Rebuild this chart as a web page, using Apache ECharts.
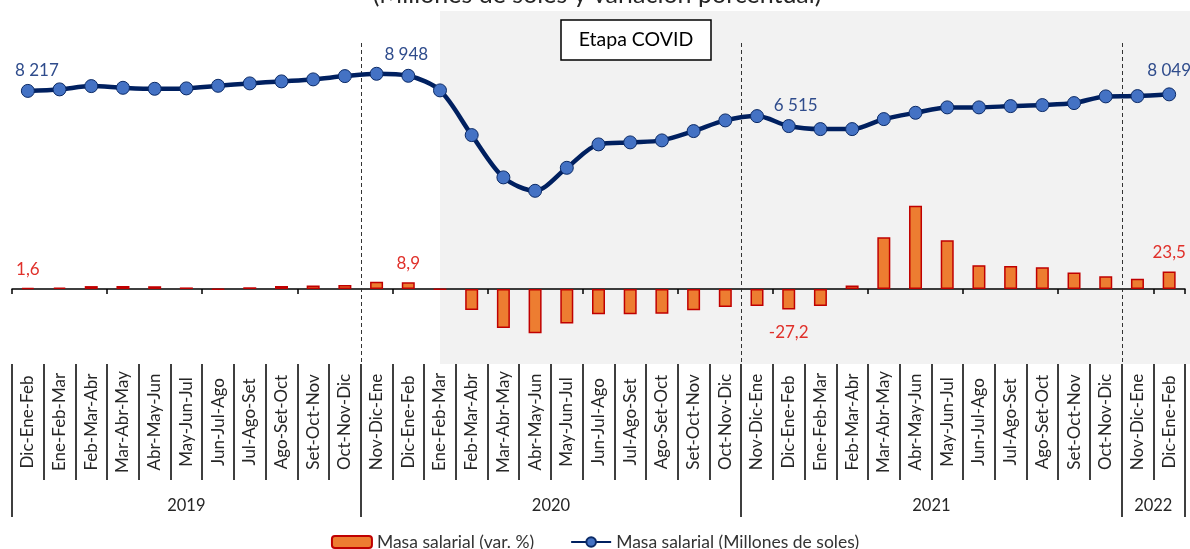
<!DOCTYPE html>
<html>
<head>
<meta charset="utf-8">
<script src="https://cdn.jsdelivr.net/npm/echarts@6/dist/echarts.min.js"></script>
<style>
html, body { margin: 0; padding: 0; background: #fff; }
#main { width: 1190px; height: 549px; }
</style>
</head>
<body>
<div id="main"></div>
<script>
// trimestres moviles
var periodos = [
    'Dic-Ene-Feb', 'Ene-Feb-Mar', 'Feb-Mar-Abr', 'Mar-Abr-May', 'Abr-May-Jun', 'May-Jun-Jul',
    'Jun-Jul-Ago', 'Jul-Ago-Set', 'Ago-Set-Oct', 'Set-Oct-Nov', 'Oct-Nov-Dic',
    'Nov-Dic-Ene', 'Dic-Ene-Feb', 'Ene-Feb-Mar', 'Feb-Mar-Abr', 'Mar-Abr-May', 'Abr-May-Jun',
    'May-Jun-Jul', 'Jun-Jul-Ago', 'Jul-Ago-Set', 'Ago-Set-Oct', 'Set-Oct-Nov', 'Oct-Nov-Dic',
    'Nov-Dic-Ene', 'Dic-Ene-Feb', 'Ene-Feb-Mar', 'Feb-Mar-Abr', 'Mar-Abr-May', 'Abr-May-Jun',
    'May-Jun-Jul', 'Jun-Jul-Ago', 'Jul-Ago-Set', 'Ago-Set-Oct', 'Set-Oct-Nov', 'Oct-Nov-Dic',
    'Nov-Dic-Ene', 'Dic-Ene-Feb'
];
var anios = ['2019', '2020', '2021', '2022'];
var aniosCentro = [5.5, 17, 29, 36];
var aniosCortes = [0, 11, 23, 35, 37];

// Masa salarial (Millones de soles)
var masaSoles = [
    8217, 8290, 8449, 8367, 8319, 8338, 8464, 8580, 8677, 8774, 8933,
    9045, 8948, 8241, 6078, 4031, 3382, 4495, 5628, 5725, 5821, 6272, 6789,
    6997, 6515, 6368, 6368, 6852, 7157, 7419, 7419, 7481, 7530, 7627, 7951,
    7965, 8049
];
// Masa salarial (var. %)
var masaVar = [
    1.6, 2.0, 3.9, 4.1, 3.7, 2.1, -0.7, 2.3, 4.0, 4.8, 5.3,
    9.6, 8.9, -0.5, -28.0, -52.0, -59.0, -46.0, -33.5, -33.5, -33.0, -28.3, -24.0,
    -22.6, -27.2, -22.8, 4.7, 69.0, 111.0, 65.0, 31.8, 30.8, 29.0, 22.0, 17.0,
    13.6, 23.5
];
var conEtiqueta = [0, 12, 24, 36];

var fuente = 'Lato';

function miles(v) {
    return String(v).replace(/\B(?=(\d{3})+(?!\d))/g, ' ');
}

var offLinea = { 0: [9, 0], 12: [-2, -1], 24: [7, 0], 36: [0, -3] };

var datosLinea = masaSoles.map(function (v, i) {
    if (conEtiqueta.indexOf(i) < 0) return v;
    return {
        value: v,
        label: { show: true, position: 'top', distance: 5, offset: offLinea[i] }
    };
});

var datosBarra = masaVar.map(function (v, i) {
    if (conEtiqueta.indexOf(i) < 0) return v;
    return {
        value: v,
        label: { show: true, position: v < 0 ? 'bottom' : 'top', distance: v < 0 ? 15 : 10 }
    };
});

var option = {
    animation: false,
    backgroundColor: '#fff',
    textStyle: { fontFamily: fuente },
    grid: { left: 12, right: 5, top: 40, bottom: 185 },
    legend: {
        top: 528,
        left: 'center',
        itemWidth: 40,
        itemHeight: 12,
        itemGap: 36,
        textStyle: { fontFamily: fuente, fontSize: 17.5, color: '#333' },
        data: ['Masa salarial (var. %)', 'Masa salarial (Millones de soles)']
    },
    xAxis: [
        {
            // eje en cero con marcas
            type: 'category',
            data: periodos,
            position: 'bottom',
            axisLine: { onZero: true, onZeroAxisIndex: 1, lineStyle: { color: '#000', width: 1.5 } },
            axisTick: { show: true, length: 5, lineStyle: { color: '#000', width: 1.5 } },
            axisLabel: { show: false },
            splitLine: { show: false }
        },
        {
            // etiquetas de periodos
            type: 'category',
            data: periodos,
            position: 'bottom',
            axisLine: { show: false, onZero: false },
            axisTick: { show: true, length: 116, lineStyle: { color: '#000', width: 1.5 } },
            axisLabel: {
                rotate: 90, align: 'center', verticalAlign: 'middle', margin: 58,
                interval: 0, fontFamily: fuente, fontSize: 17, color: '#262626'
            },
            splitLine: { show: false }
        },
        {
            // años
            type: 'value',
            min: 0,
            max: 37,
            position: 'bottom',
            axisLine: { show: false, onZero: false },
            axisTick: { show: true, length: 153, customValues: aniosCortes, lineStyle: { color: '#000', width: 1.5 } },
            axisLabel: {
                customValues: aniosCentro, margin: 133,
                fontFamily: fuente, fontSize: 16.5, color: '#262626',
                formatter: function (v) { return anios[aniosCentro.indexOf(v)]; }
            },
            splitLine: { show: false }
        }
    ],
    yAxis: [
        { type: 'value', min: -5000, max: 10680, show: false, splitLine: { show: false } },
        { type: 'value', min: -100, max: 332, show: false, splitLine: { show: false } }
    ],
    series: [
        {
            name: 'Masa salarial (var. %)',
            type: 'bar',
            xAxisIndex: 0,
            yAxisIndex: 1,
            data: datosBarra,
            barWidth: 13,
            itemStyle: { color: '#ED7D31', borderColor: '#C00000', borderWidth: 1.5 },
            label: {
                show: false,
                fontFamily: fuente, fontSize: 17, color: '#E0302A',
                formatter: function (p) { return p.value.toFixed(1).replace('.', ','); }
            },
            z: 2
        },
        {
            name: 'Masa salarial (Millones de soles)',
            type: 'line',
            xAxisIndex: 0,
            yAxisIndex: 0,
            data: datosLinea,
            smooth: 0.3,
            symbol: 'circle',
            symbolSize: 13,
            lineStyle: { color: '#002060', width: 4.5 },
            itemStyle: { color: '#4472C4', borderColor: '#0B2A66', borderWidth: 1 },
            label: {
                show: false,
                fontFamily: fuente, fontSize: 17, color: '#2F4C8C',
                formatter: function (p) { return miles(p.value); }
            },
            z: 3
        }
    ]
};

var myChart = echarts.init(document.getElementById('main'));
myChart.setOption(option);

// decoracion: fondo gris de la etapa COVID, separadores y titulo
function px(v) {
    return myChart.convertToPixel({ xAxisIndex: 2 }, v);
}
var graficos = [
    {
        type: 'rect', z: -10, silent: true,
        shape: { x: px(13.5), y: 11, width: 1190 - px(13.5), height: 353 },
        style: { fill: '#F2F2F2' }
    },
    {
        type: 'text', z: 10, silent: true,
        x: 597, y: 7,
        style: { text: '(Millones de soles y variación porcentual)', font: '25px ' + fuente, fill: '#262626', textAlign: 'center', textVerticalAlign: 'bottom' }
    },
    {
        type: 'rect', z: 10, silent: true,
        shape: { x: 561, y: 20, width: 150, height: 40 },
        style: { fill: '#fff', stroke: '#000', lineWidth: 1.5 }
    },
    {
        type: 'text', z: 11, silent: true,
        x: 636, y: 40,
        style: { text: 'Etapa COVID', font: '19.5px ' + fuente, fill: '#000', textAlign: 'center', textVerticalAlign: 'middle' }
    }
];
[11, 23, 35].forEach(function (c) {
    var x = Math.round(px(c)) + 0.5;
    graficos.push({
        type: 'line', z: 1, silent: true,
        shape: { x1: x, y1: 43, x2: x, y2: 364 },
        style: { stroke: '#333', lineWidth: 1, lineDash: [4, 3] }
    });
});
myChart.setOption({ graphic: graficos });
</script>
</body>
</html>
